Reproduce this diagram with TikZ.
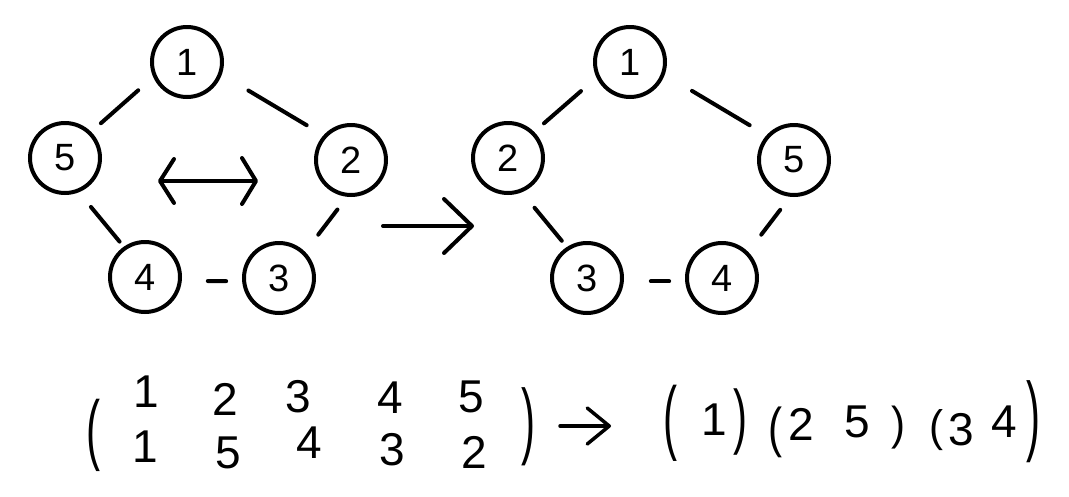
\documentclass[tikz,border=0pt]{standalone}
\usepackage{fontspec}
\setmainfont{Liberation Sans}
\usetikzlibrary{arrows.meta}
\newcommand\pfs[1]{\fontsize{#1}{#1}\selectfont}
\newcommand\vpar[2]{\scalebox{1}[#1]{#2}}
\begin{document}
\begin{tikzpicture}[x=1pt,y=-1pt,
  vtx/.style={circle,draw,line width=4pt,minimum size=70pt,inner sep=0pt,font=\pfs{38}},
  link/.style={line width=4pt,line cap=round},
  dig/.style={inner sep=0pt,font=\pfs{46}},
  par/.style={inner sep=0pt,font=\pfs{42}},
  barb/.style={line width=4pt,line cap=round}
]
\fill[white] (0,0) rectangle (1069,496);
\useasboundingbox (0,0) rectangle (1069,496);

% left graph
\node[vtx] (L1) at (187,62) {1};
\node[vtx] (L5) at (65,158) {5};
\node[vtx] (L2) at (351,160) {2};
\node[vtx] (L4) at (145,277) {4};
\node[vtx] (L3) at (279,278) {3};
\draw[link,shorten <=20pt,shorten >=13pt] (L1.204.7) -- (L5.45);
\draw[link,shorten <=31pt,shorten >=19.6pt] (L1.340.5) -- (L2.138.7);
\draw[link,shorten <=19pt,shorten >=6.6pt] (L5.292.8) -- (L4.125.2);
\draw[link,shorten <=16pt,shorten >=21.6pt] (L2.264.4) -- (L3.45);
\draw[link,shorten <=26pt,shorten >=16pt] (L4.354.4) -- (L3.185.6);

% double arrow
\coordinate (dl) at (158,181);
\coordinate (dr) at (258,181);
\draw[barb,{Straight Barb[length=14pt,width=44pt,round]}-{Straight Barb[length=14pt,width=46pt,round]}] (dl) -- (dr);

% big arrow
\coordinate (ba) at (383,226);
\coordinate (bb) at (474,226);
\draw[barb,-{Straight Barb[length=28pt,width=54pt,round]}] (ba) -- (bb);

% right graph
\node[vtx] (R1) at (630,62) {1};
\node[vtx] (R2) at (508,158) {2};
\node[vtx] (R5) at (794,160) {5};
\node[vtx] (R3) at (587,278) {3};
\node[vtx] (R4) at (722,278) {4};
\draw[link,shorten <=20.5pt,shorten >=13pt] (R1.205.6) -- (R2.45);
\draw[link,shorten <=31.7pt,shorten >=19.6pt] (R1.340.7) -- (R5.138.7);
\draw[link,shorten <=20pt,shorten >=8pt] (R2.292.4) -- (R3.123.7);
\draw[link,shorten <=16.4pt,shorten >=21.6pt] (R5.264) -- (R4.45);
\draw[link,shorten <=27pt,shorten >=16pt] (R3.355.4) -- (R4.185.6);

% two-line notation
\node[par] (ml) at (93,435) {\vpar{1.85}{(}};
\node[dig] (t1) at (146,392) {1};
\node[dig] (t2) at (225,399) {2};
\node[dig] (t3) at (298,397) {3};
\node[dig] (t4) at (390,398) {4};
\node[dig] (t5) at (471,397) {5};
\node[dig] (b1) at (145,447) {1};
\node[dig] (b2) at (228,453) {5};
\node[dig] (b3) at (309,443) {4};
\node[dig] (b4) at (392,450) {3};
\node[dig] (b5) at (474,452) {2};
\node[par] (mr) at (528,427) {\vpar{2.0}{)}};

% small arrow
\coordinate (sa) at (560,426);
\coordinate (sb) at (611,426);
\draw[line width=3.5pt,line cap=round,-{Straight Barb[length=22pt,width=36pt,round]}] (sa) -- (sb);

% cycle notation
\node[par] (p1) at (670,423) {\vpar{1.95}{(}};
\node[dig] (c1) at (714,420) {1};
\node[par] (q1) at (740,422) {\vpar{1.7}{)}};
\node[par] (p2) at (775,432) {\vpar{1.3}{(}};
\node[dig] (c2) at (801,424) {2};
\node[dig] (c3) at (857,422) {5};
\node[par] (q2) at (898,428) {\vpar{1.1}{)}};
\node[par] (p3) at (936,430) {\vpar{1.05}{(}};
\node[dig] (c4) at (961,430) {3};
\node[dig] (c5) at (1004,422) {4};
\node[par] (q3) at (1033,422) {\vpar{2.1}{)}};
\end{tikzpicture}
\end{document}
